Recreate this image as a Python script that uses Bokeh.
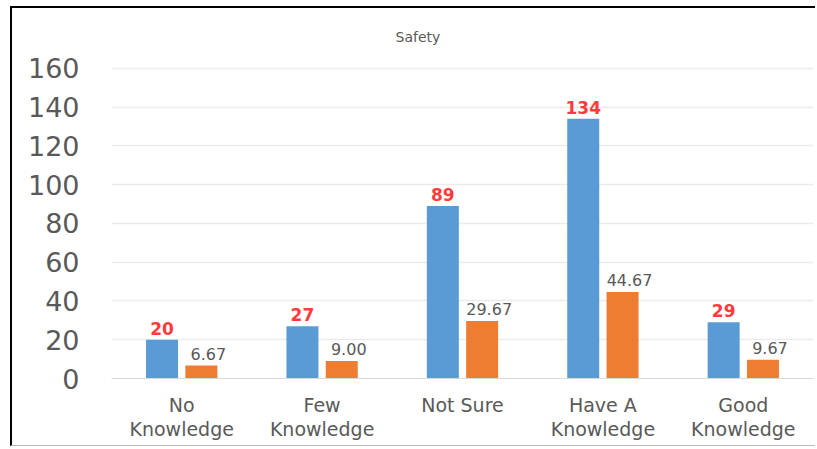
from bokeh.plotting import figure
from bokeh.models import ColumnDataSource, LabelSet, FixedTicker, Range1d
from bokeh.core.properties import value
from bokeh.transform import dodge
from bokeh.embed import file_html
from bokeh.resources import INLINE

# Knowledge level categories (shown on two lines) and the two series
categories = ["No\nKnowledge", "Few\nKnowledge", "Not Sure", "Have A\nKnowledge", "Good\nKnowledge"]
counts = [20, 27, 89, 134, 29]
means = [6.67, 9.00, 29.67, 44.67, 9.67]
y_ticks = [0, 20, 40, 60, 80, 100, 120, 140, 160]

BLUE = "#5B9BD5"
ORANGE = "#ED7D31"
GREY = "#595959"
FONT = "DejaVu Sans"

source = ColumnDataSource(dict(
    cat=categories,
    counts=counts,
    means=means,
    counts_txt=[str(v) for v in counts],
    means_txt=[f"{v:.2f}" for v in means],
))

p = figure(
    x_range=categories, y_range=Range1d(0, 161),
    width=805, height=440,
    output_backend="svg", toolbar_location=None,
    min_border_left=99, min_border_right=4,
    min_border_top=57, min_border_bottom=70,
)
p.margin = (6, 0, 0, 10)
p.styles = {
    "border-left": "2px solid black",
    "border-top": "2px solid black",
    "border-bottom": "1px solid #BBBBBB",
}
p.outline_line_color = None
p.background_fill_color = "white"
p.border_fill_color = "white"

p.title.text = "Safety"
p.title.align = "left"
p.title.vertical_align = "top"
p.title.text_font = FONT
p.title.text_font_size = "14px"
p.title.text_font_style = "normal"
p.title.text_color = GREY
p.title.offset = 284
p.title.standoff = 40

p.vbar(x=dodge("cat", -0.14, range=p.x_range), top="counts", width=0.228,
       source=source, fill_color=BLUE, line_color=None)
p.vbar(x=dodge("cat", 0.14, range=p.x_range), top="means", width=0.228,
       source=source, fill_color=ORANGE, line_color=None)

p.add_layout(LabelSet(x=dodge("cat", -0.14, range=p.x_range), y="counts", text="counts_txt",
                      source=source, text_align="center", text_baseline="bottom",
                      y_offset=5, text_font=value(FONT), text_font_size="17px",
                      text_font_style="bold", text_color="#FF3B3B"))
p.add_layout(LabelSet(x=dodge("cat", 0.14, range=p.x_range), y="means", text="means_txt",
                      source=source, text_align="center", text_baseline="bottom",
                      x_offset=7, y_offset=6, text_font=value(FONT), text_font_size="16px",
                      text_color=GREY))

# axes
p.yaxis.ticker = FixedTicker(ticks=y_ticks)
p.yaxis.axis_line_color = None
p.yaxis.major_tick_line_color = None
p.yaxis.minor_tick_line_color = None
p.yaxis.major_label_text_font = FONT
p.yaxis.major_label_text_font_size = "27px"
p.yaxis.major_label_text_color = GREY
p.yaxis.major_label_standoff = 26

p.xaxis.axis_line_color = "#D9D9D9"
p.xaxis.axis_line_width = 1
p.xaxis.major_tick_line_color = None
p.xaxis.minor_tick_line_color = None
p.xaxis.major_label_text_font = FONT
p.xaxis.major_label_text_font_size = "19px"
p.xaxis.major_label_text_color = GREY
p.xaxis.major_label_text_line_height = 1.12
p.xaxis.major_label_standoff = 9

p.xgrid.grid_line_color = None
p.ygrid.grid_line_color = "#EBEBEB"
p.ygrid.grid_line_width = 1.5

open("out.html", "w").write(file_html(p, INLINE))
